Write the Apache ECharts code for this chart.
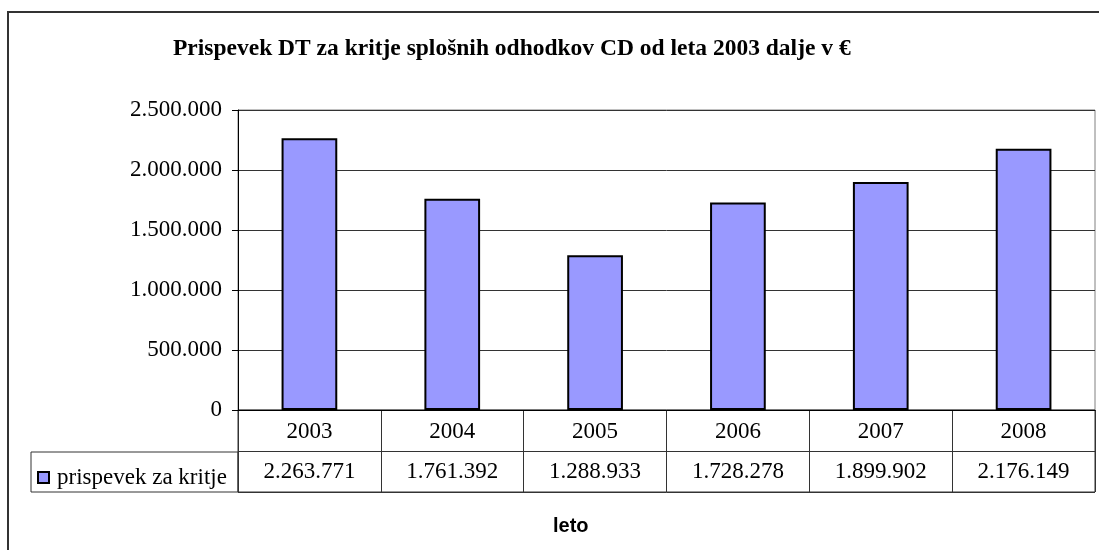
<!DOCTYPE html>
<html>
<head>
<meta charset="utf-8">
<script src="https://cdn.jsdelivr.net/npm/echarts@6/dist/echarts.min.js"></script>
<style>
  html, body { margin: 0; padding: 0; background: #fff; }
  #chart { width: 1099px; height: 550px; }
</style>
</head>
<body>
<div id="chart"></div>
<script>
// podatki
const years = ['2003', '2004', '2005', '2006', '2007', '2008'];
const prispevek = [2263771, 1761392, 1288933, 1728278, 1899902, 2176149];
const seriesName = 'prispevek za kritje';
const yTicks = [0, 500000, 1000000, 1500000, 2000000, 2500000];

// 2263771 -> "2.263.771"
function fmt(v) {
    return String(Math.round(v)).replace(/\B(?=(\d{3})+(?!\d))/g, '.');
}

const serif = '"Liberation Serif", "Times New Roman", serif';
const fs = 23;

const chart = echarts.init(document.getElementById('chart'));

const option = {
    backgroundColor: '#fff',
    animation: false,
    title: [
        {
            text: 'Prispevek DT za kritje splošnih odhodkov CD od leta 2003 dalje v €',
            left: 168,
            top: 32,
            textStyle: { fontFamily: serif, fontWeight: 'bold', fontSize: 23.5, color: '#000' }
        },
        {
            text: 'leto',
            left: 548,
            top: 511,
            textStyle: { fontFamily: '"Liberation Sans", Arial, sans-serif', fontWeight: 'bold', fontSize: 20, color: '#000' }
        }
    ],
    legend: {
        data: [seriesName],
        left: 32,
        top: 461,
        icon: 'rect',
        itemWidth: 11,
        itemHeight: 11,
        textStyle: { fontFamily: serif, fontSize: fs, color: '#000', padding: [0, 0, 0, 3] }
    },
    grid: [
        // graf
        { left: 238, right: 4, top: 110, bottom: 140, show: true, borderColor: '#808080', borderWidth: 1 },
        // tabela s podatki
        { left: 238, right: 4, top: 410, bottom: 58, show: true, borderColor: '#333', borderWidth: 1 }
    ],
    xAxis: [
        {
            type: 'category',
            data: years,
            gridIndex: 0,
            axisLine: { lineStyle: { color: '#000', width: 1 } },
            axisTick: { show: false },
            axisLabel: { fontFamily: serif, fontSize: fs, color: '#000', margin: 10 }
        },
        {
            type: 'category',
            data: years,
            gridIndex: 1,
            axisLine: { show: false },
            axisTick: { show: false },
            axisLabel: { show: false },
            splitLine: { show: true, lineStyle: { color: '#333', width: 1 } }
        }
    ],
    yAxis: [
        {
            type: 'value',
            gridIndex: 0,
            min: yTicks[0],
            max: yTicks[yTicks.length - 1],
            interval: 500000,
            axisLine: { show: true, lineStyle: { color: '#000', width: 1 } },
            axisTick: { show: true, length: 6, lineStyle: { color: '#000' } },
            axisLabel: { fontFamily: serif, fontSize: fs, color: '#000', margin: 16, formatter: fmt },
            splitLine: { show: true, lineStyle: { color: '#333', width: 1 } }
        },
        {
            type: 'value',
            gridIndex: 1,
            min: 0,
            max: 2,
            interval: 1,
            axisLine: { show: false },
            axisTick: { show: false },
            axisLabel: { show: false },
            splitLine: { show: true, lineStyle: { color: '#333', width: 1 } }
        }
    ],
    graphic: [
        // zunanji okvir
        {
            type: 'rect',
            shape: { x: 8, y: 12, width: 1200, height: 600 },
            style: { fill: 'none', stroke: '#333', lineWidth: 2 },
            silent: true
        },
        // celica legende
        {
            type: 'rect',
            shape: { x: 31, y: 452, width: 207, height: 40 },
            style: { fill: 'none', stroke: '#333', lineWidth: 1 },
            silent: true
        }
    ],
    series: [
        {
            name: seriesName,
            type: 'bar',
            xAxisIndex: 0,
            yAxisIndex: 0,
            data: prispevek,
            barCategoryGap: '61%',
            itemStyle: { color: '#9999FF', borderColor: '#000', borderWidth: 2 }
        },
        {
            // vrednosti v tabeli
            name: 'tabela',
            type: 'custom',
            xAxisIndex: 1,
            yAxisIndex: 1,
            data: prispevek.map((v, i) => [i, 0.5, v]),
            encode: { x: 0, y: 1 },
            renderItem: function (params, api) {
                const p = api.coord([api.value(0), api.value(1)]);
                return {
                    type: 'text',
                    x: p[0],
                    y: p[1],
                    style: {
                        text: fmt(api.value(2)),
                        fontFamily: serif,
                        fontSize: fs,
                        fill: '#000',
                        align: 'center',
                        verticalAlign: 'middle'
                    }
                };
            }
        }
    ]
};

chart.setOption(option);
</script>
</body>
</html>
